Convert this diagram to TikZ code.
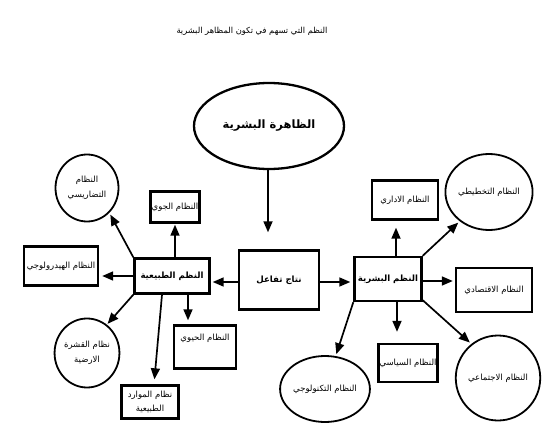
\documentclass[tikz,border=0pt]{standalone}
\usepackage{fontspec}
\usetikzlibrary{shapes.geometric,arrows.meta}
\TeXXeTstate=1
\newfontfamily\arabicfont[Script=Arabic]{DejaVu Sans}
\newcommand{\artxt}[1]{\beginR #1\endR}
\tikzset{
  boxnode/.style={draw, line width=2.4pt, rectangle, inner sep=1pt, align=center, font=\arabicfont\fontsize{8.5}{13}\selectfont},
  mainbox/.style={boxnode, font=\arabicfont\bfseries\fontsize{8.6}{10}\selectfont},
  ovalnode/.style={draw, line width=1.8pt, ellipse, inner sep=0pt, align=center, font=\arabicfont\fontsize{8.5}{15}\selectfont},
  arr/.style={line width=1.7pt, -{Triangle[length=11pt,width=9pt]}}
}
\begin{document}
\begin{tikzpicture}[x=1pt,y=-1pt]
\useasboundingbox (0,0) rectangle (546,428);
\node[font=\arabicfont\fontsize{8.3}{9}\selectfont] (title) at (252,31) {\artxt{النظم التي تسهم في تكون المظاهر البشرية}};
\node[ovalnode, line width=2.3pt, minimum width=150pt, minimum height=86pt, font=\arabicfont\bfseries\fontsize{11.5}{13}\selectfont] (zah) at (269,126) {\artxt{الظاهرة البشرية}};
\node[mainbox, minimum width=80pt, minimum height=59pt] (res) at (279,280) {\artxt{نتاج تفاعل}};
\node[mainbox, minimum width=75pt, minimum height=35pt] (nat) at (172,276) {\artxt{النظم الطبيعية}};
\node[mainbox, minimum width=67pt, minimum height=44pt] (hum) at (388,279) {\artxt{النظم البشرية}};
% left side
\node[ovalnode, minimum width=63pt, minimum height=67pt] (tad) at (87,188) {\artxt{النظام}\\\artxt{التضاريسي}};
\node[boxnode, minimum width=49pt, minimum height=31pt] (jaw) at (175,207) {\artxt{النظام الجوي}};
\node[boxnode, minimum width=74pt, minimum height=39pt] (hyd) at (61,266) {\artxt{النظام الهيدرولوجي}};
\node[ovalnode, minimum width=63pt, minimum height=69pt] (qsh) at (87,353) {\artxt{نظام القشرة}\\\artxt{الارضية}};
\node[boxnode, minimum width=57pt, minimum height=33pt, inner sep=0pt, font=\arabicfont\fontsize{8.5}{14}\selectfont] (maw) at (150,402) {\artxt{نظام الموارد}\\\artxt{الطبيعية}};
\node[boxnode, minimum width=62pt, minimum height=43pt] (hay) at (205,347) {\artxt{النظام الحيوي}\\[6pt]};
% right side
\node[boxnode, minimum width=66pt, minimum height=39pt] (idr) at (405,200) {\artxt{النظام الاداري}};
\node[ovalnode, minimum width=64pt, minimum height=76pt] (takh) at (489,192) {\artxt{النظام التخطيطي}};
\node[boxnode, minimum width=76pt, minimum height=44pt] (iqt) at (494,290) {\artxt{النظام الاقتصادي}};
\node[ovalnode, minimum width=74pt, minimum height=66pt] (tech) at (325,389) {\artxt{النظام التكنولوجي}};
\node[boxnode, minimum width=58pt, minimum height=38pt] (siy) at (408,363) {\artxt{النظام السياسي}};
\node[ovalnode, minimum width=71pt, minimum height=85pt] (ijt) at (498,378) {\artxt{النظام الاجتماعي}};
% connectors
\draw[arr, shorten >=17pt] ([xshift=-1pt]zah.south) -- ([xshift=-1pt]zah.south |- res.north);
\draw[arr, shorten >=2pt] ([yshift=-2pt]res.west) -- ([yshift=-2pt]res.west -| nat.east);
\draw[arr, shorten >=3pt] ([yshift=-2pt]res.east) -- ([yshift=-2pt]res.east -| hum.west);
\draw[arr, shorten >=2pt] (nat.north west) -- (tad.-48);
\draw[arr, shorten >=1pt] ([xshift=3pt]nat.north) -- ([xshift=3pt]nat.north |- jaw.south);
\draw[arr, shorten >=3pt] (nat.west) -- (nat.west -| hyd.east);
\draw[arr, shorten >=1pt] (nat.south west) -- (qsh.55);
\draw[arr, shorten >=5pt] ([xshift=-10pt]nat.south) -- ([xshift=4pt]maw.north);
\draw[arr, shorten >=4pt] ([xshift=16pt]nat.south) -- ([xshift=16pt]nat.south |- hay.north);
\draw[arr, shorten >=7pt] ([xshift=8pt]hum.north) -- ([xshift=8pt]hum.north |- idr.south);
\draw[arr, shorten >=2pt] (hum.north east) -- (takh.-135);
\draw[arr, shorten >=2pt] ([yshift=-2pt]hum.east) -- ([yshift=-2pt]hum.east -| iqt.west);
\draw[arr, shorten >=2pt] (hum.south west) -- (tech.72);
\draw[arr, shorten >=11pt] ([xshift=9pt]hum.south) -- ([xshift=9pt]hum.south |- siy.north);
\draw[arr, shorten >=2pt] ([yshift=2pt]hum.south east) -- (ijt.128);
\end{tikzpicture}
\end{document}
